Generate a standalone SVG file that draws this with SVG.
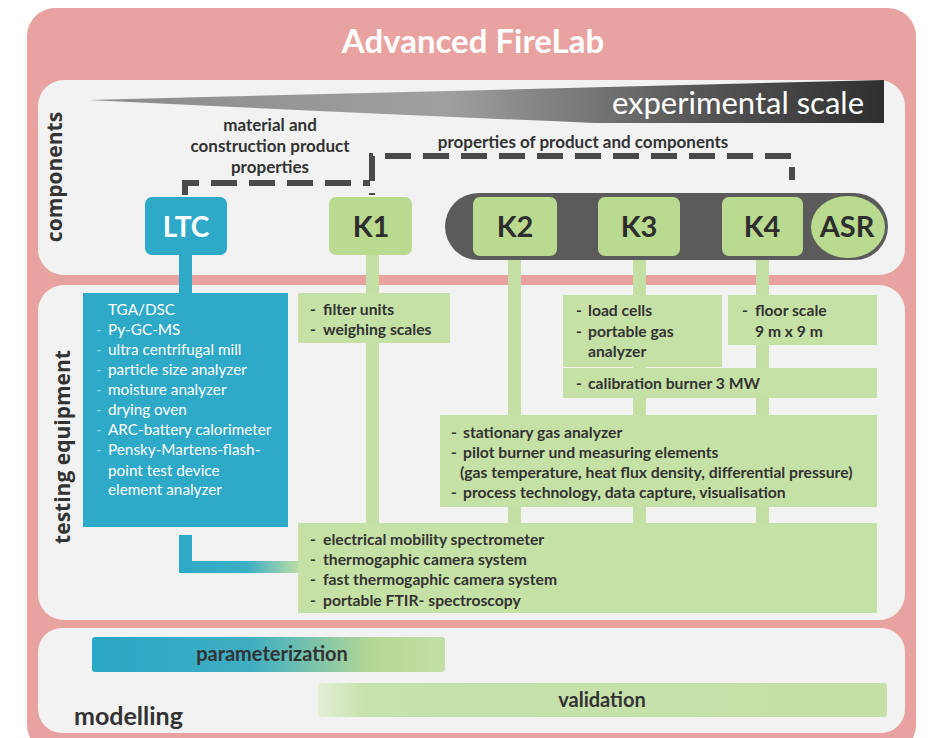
<svg xmlns="http://www.w3.org/2000/svg" width="931" height="738" viewBox="0 0 931 738">
<defs>
<linearGradient id="wedge" x1="0" y1="0" x2="1" y2="0">
<stop offset="0" stop-color="#8a8a8a"/>
<stop offset="0.45" stop-color="#a0a0a0"/>
<stop offset="0.75" stop-color="#5a5a5a"/>
<stop offset="1" stop-color="#2f2f2f"/>
</linearGradient>
<linearGradient id="param" x1="0" y1="0" x2="1" y2="0">
<stop offset="0" stop-color="#2aa6c6"/>
<stop offset="0.45" stop-color="#3eaec2"/>
<stop offset="0.8" stop-color="#b6d894"/>
<stop offset="1" stop-color="#c3dfa6"/>
</linearGradient>
<linearGradient id="valid" x1="0" y1="0" x2="1" y2="0">
<stop offset="0" stop-color="#e4f0d8"/>
<stop offset="0.08" stop-color="#c8e2ad"/>
<stop offset="1" stop-color="#c4dfa6"/>
</linearGradient>
<linearGradient id="ltcLink" x1="0" y1="0" x2="1" y2="0">
<stop offset="0" stop-color="#2fa9c8"/>
<stop offset="0.55" stop-color="#3aaec4"/>
<stop offset="1" stop-color="#c4dfa6"/>
</linearGradient>
<style>
.panel{fill:#f2f2f2;}
.blue{fill:#2fa9c8;}
.gnode{fill:#b9da8f;}
.gbox{fill:#c6e1a6;}
.gline{fill:#c3dfa3;}
.dash{fill:none;stroke:#4a4a4a;stroke-width:6;stroke-dasharray:26 12;}
.t{font-family:Lato,"Open Sans","Liberation Sans",sans-serif;font-weight:700;fill:#333;}
.lbl{font-size:17px;text-anchor:middle;}
.it{font-size:15.7px;}
.wt{font-family:Lato,"Open Sans","Liberation Sans",sans-serif;font-size:15.3px;fill:#ffffff;font-weight:400;}
.wd{font-family:Lato,"Open Sans","Liberation Sans",sans-serif;font-size:15px;fill:#8fd3e3;}
.nk{font-family:Lato,"Open Sans","Liberation Sans",sans-serif;font-weight:700;font-size:29px;text-anchor:middle;fill:#2e2e2e;}
.side{font-family:"Open Sans","DejaVu Sans",sans-serif;font-weight:700;font-size:21px;fill:#333;text-anchor:middle;}
</style>
</defs>

<!-- background frame -->
<rect x="0" y="0" width="931" height="738" fill="#ffffff"/>
<rect x="27" y="8" width="889" height="745" rx="28" fill="#e8a3a1"/>
<text x="473" y="53" font-family="Lato,'Open Sans','Liberation Sans',sans-serif" font-weight="700" font-size="33" fill="#ffffff" text-anchor="middle">Advanced FireLab</text>

<!-- panels -->
<g id="panel-components">
<rect class="panel" x="38" y="80" width="867" height="195" rx="26"/>
<text class="side" transform="translate(62,177) rotate(-90)">components</text>
</g>
<g id="panel-testing">
<rect class="panel" x="38" y="285" width="867" height="335" rx="26"/>
<text class="side" transform="translate(70,447) rotate(-90)" font-size="23">testing equipment</text>
</g>
<g id="panel-modelling">
<rect class="panel" x="38" y="628" width="867" height="105" rx="24"/>
</g>

<!-- experimental scale wedge -->
<g id="scale">
<path d="M89,100 L884,80 L884,123 L595,123 Q330,112 89,100 Z" fill="url(#wedge)"/>
<text x="864" y="114" font-family="Lato,'Open Sans','Liberation Sans',sans-serif" font-weight="400" font-size="31" fill="#ffffff" text-anchor="end">experimental scale</text>
</g>

<!-- labels -->
<g id="labels">
<text class="t lbl" x="270" y="131">material and</text>
<text class="t lbl" x="270" y="152">construction product</text>
<text class="t lbl" x="270" y="173">properties</text>
<text class="t lbl" x="583" y="148">properties of product and components</text>
</g>

<!-- connectors -->
<g id="connectors">
<path class="dash" d="M185,195 V183 H370"/>
<path class="dash" d="M372,195 V156 H792 V180" stroke-dashoffset="-14"/>
<rect x="179" y="250" width="13" height="45" class="blue"/>
<rect class="gline" x="366" y="250" width="13" height="275"/>
<rect class="gline" x="508" y="250" width="13" height="275"/>
<rect class="gline" x="633" y="250" width="13" height="275"/>
<rect class="gline" x="756" y="250" width="13" height="275"/>
<path d="M179,535 V573 H302 V561 H192 V535 Z" fill="url(#ltcLink)"/>
<rect x="179" y="535" width="13" height="38" class="blue"/>
</g>

<!-- component nodes -->
<g id="rig">
<rect x="445" y="193" width="443" height="67" rx="33.5" fill="#5b5b5b"/>
</g>
<g id="LTC">
<rect class="blue" x="145" y="197" width="82" height="58" rx="7"/>
<text x="186" y="237" font-family="Lato,'Open Sans','Liberation Sans',sans-serif" font-weight="700" font-size="28" fill="#ffffff" text-anchor="middle">LTC</text>
</g>
<g id="K1">
<rect class="gnode" x="329" y="197" width="83" height="58" rx="7"/>
<text class="nk" x="371" y="237">K1</text>
</g>
<g id="K2">
<rect class="gnode" x="473" y="197" width="84" height="59" rx="7"/>
<text class="nk" x="515" y="237">K2</text>
</g>
<g id="K3">
<rect class="gnode" x="598" y="197" width="82" height="59" rx="7"/>
<text class="nk" x="639" y="237">K3</text>
</g>
<g id="K4">
<rect class="gnode" x="722" y="197" width="81" height="59" rx="7"/>
<text class="nk" x="762" y="237">K4</text>
</g>
<g id="ASR">
<ellipse class="gnode" cx="848" cy="227" rx="37" ry="31"/>
<text class="nk" x="847" y="237" font-size="26">ASR</text>
</g>

<!-- testing equipment boxes -->
<g id="box-LTC">
<rect class="blue" x="83" y="293" width="205" height="234"/>
<text class="wt" x="108" y="315">TGA/DSC</text>
<text class="wd" x="96" y="335">-</text><text class="wt" x="108" y="335">Py-GC-MS</text>
<text class="wd" x="96" y="355">-</text><text class="wt" x="108" y="355">ultra centrifugal mill</text>
<text class="wd" x="96" y="375">-</text><text class="wt" x="108" y="375">particle size analyzer</text>
<text class="wd" x="96" y="395">-</text><text class="wt" x="108" y="395">moisture analyzer</text>
<text class="wd" x="96" y="415">-</text><text class="wt" x="108" y="415">drying oven</text>
<text class="wd" x="96" y="435">-</text><text class="wt" x="108" y="435">ARC-battery calorimeter</text>
<text class="wd" x="96" y="455">-</text><text class="wt" x="108" y="455">Pensky-Martens-flash-</text>
<text class="wt" x="108" y="476">point test device</text>
<text class="wt" x="108" y="495">element analyzer</text>
</g>
<g id="box-K1">
<rect class="gbox" x="298" y="293" width="152" height="50"/>
<text class="t it" x="310" y="315">-</text><text class="t it" x="323" y="315">filter units</text>
<text class="t it" x="310" y="335">-</text><text class="t it" x="323" y="335">weighing scales</text>
</g>
<g id="box-K3">
<rect class="gbox" x="563" y="295" width="159" height="72"/>
<text class="t it" x="576" y="316">-</text><text class="t it" x="588" y="316">load cells</text>
<text class="t it" x="576" y="337">-</text><text class="t it" x="588" y="337">portable gas</text>
<text class="t it" x="588" y="357">analyzer</text>
</g>
<g id="box-K4">
<rect class="gbox" x="728" y="295" width="149" height="50"/>
<text class="t it" x="742" y="316">-</text><text class="t it" x="755" y="316">floor scale</text>
<text class="t it" x="755" y="337">9 m x 9 m</text>
</g>
<g id="box-burner">
<rect class="gbox" x="563" y="368" width="314" height="30"/>
<text class="t it" x="576" y="389">-</text><text class="t it" x="588" y="389">calibration burner 3 MW</text>
</g>
<g id="box-K2">
<rect class="gbox" x="440" y="415" width="437" height="92"/>
<text class="t it" x="451" y="438">-</text><text class="t it" x="463" y="438">stationary gas analyzer</text>
<text class="t it" x="451" y="458">-</text><text class="t it" x="463" y="458">pilot burner und measuring elements</text>
<text class="t it" x="460" y="478">(gas temperature, heat flux density, differential pressure)</text>
<text class="t it" x="451" y="498">-</text><text class="t it" x="463" y="498">process technology, data capture, visualisation</text>
</g>
<g id="box-common">
<rect class="gbox" x="298" y="523" width="579" height="90"/>
<text class="t it" x="310" y="545">-</text><text class="t it" x="323" y="545">electrical mobility spectrometer</text>
<text class="t it" x="310" y="565">-</text><text class="t it" x="323" y="565">thermogaphic camera system</text>
<text class="t it" x="310" y="585">-</text><text class="t it" x="323" y="585">fast thermogaphic camera system</text>
<text class="t it" x="310" y="606">-</text><text class="t it" x="323" y="606">portable FTIR- spectroscopy</text>
</g>

<!-- modelling -->
<g id="parameterization">
<rect x="92" y="637" width="353" height="35" rx="3" fill="url(#param)"/>
<text class="t" x="272" y="661" font-size="20" text-anchor="middle">parameterization</text>
</g>
<g id="validation">
<rect x="318" y="683" width="569" height="34" rx="3" fill="url(#valid)"/>
<text class="t" x="602" y="707" font-size="20" text-anchor="middle">validation</text>
</g>
<text class="t" x="74" y="725" font-size="25">modelling</text>
</svg>
